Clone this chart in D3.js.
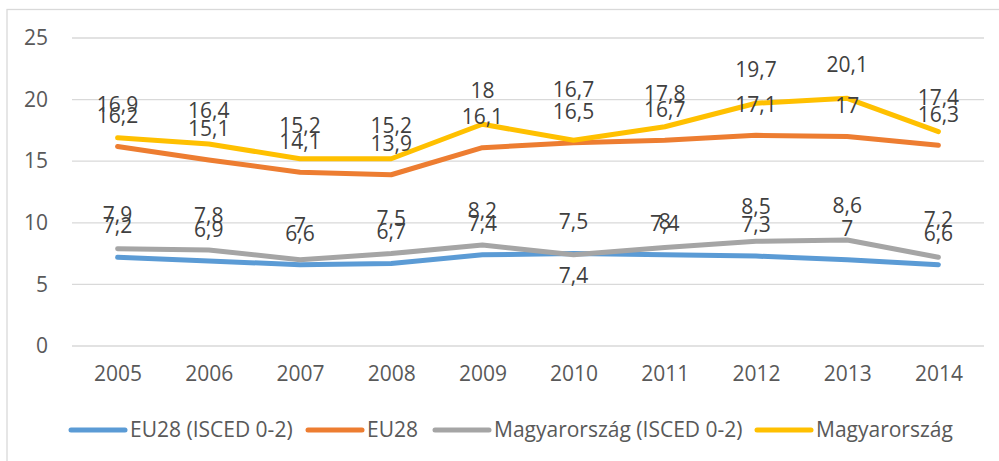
<!DOCTYPE html>
<html>
<head>
<meta charset="utf-8">
<script src="https://cdn.jsdelivr.net/npm/d3@7"></script>
<style>
  html, body { margin: 0; padding: 0; background: #fff; overflow: hidden; }
  svg { display: block; font-family: "Open Sans", "Liberation Sans", sans-serif; font-stretch: 90%; }
</style>
</head>
<body>
<svg id="chart" width="999" height="461"></svg>
<script>
const years = ["2005","2006","2007","2008","2009","2010","2011","2012","2013","2014"];
const seriesNames = ["EU28 (ISCED 0-2)", "EU28", "Magyarország (ISCED 0-2)", "Magyarország"];
const eu28Isced = [7.2, 6.9, 6.6, 6.7, 7.4, 7.5, 7.4, 7.3, 7, 6.6];
const eu28 = [16.2, 15.1, 14.1, 13.9, 16.1, 16.5, 16.7, 17.1, 17, 16.3];
const huIsced = [7.9, 7.8, 7, 7.5, 8.2, 7.4, 8, 8.5, 8.6, 7.2];
const hu = [16.9, 16.4, 15.2, 15.2, 18, 16.7, 17.8, 19.7, 20.1, 17.4];
const yTicks = [0, 5, 10, 15, 20, 25];

const colors = ["#5B9BD5", "#ED7D31", "#A5A5A5", "#FFC000"];
const seriesValues = [eu28Isced, eu28, huIsced, hu];

// label styling: distance above the point per series, and a few hand-moved labels
const labelLift = [31.5, 31, 34.5, 33.5];
const labelNudges = [
  { s: 2, year: "2010", dy: 55 },   // placed below the point
  { s: 3, year: "2010", dy: -17 },
  { s: 2, year: "2011", dy: 9 },
  { s: 2, year: "2014", dy: -3 }
];

const svg = d3.select("#chart");
const fmt = v => String(v).replace(".", ",");
const FS = 21;

// outer frame
svg.append("rect").attr("x", 7).attr("y", 9.5).attr("width", 1100).attr("height", 600)
  .attr("fill", "none").attr("stroke", "#d9d9d9").attr("stroke-width", 1.3);

const x = d3.scalePoint().domain(years).range([72, 984]).padding(0.5);
const y = d3.scaleLinear().domain([0, 25]).range([346, 38]);

// gridlines
svg.append("g").selectAll("line").data(yTicks).join("line")
  .attr("x1", 72).attr("x2", 984)
  .attr("y1", d => y(d)).attr("y2", d => y(d))
  .attr("stroke", "#d9d9d9").attr("stroke-width", 1.3);

// y axis labels
const yAxis = svg.append("g").attr("transform", "translate(48,0)")
  .call(d3.axisLeft(y).tickValues(yTicks).tickSize(0).tickPadding(0));
yAxis.select(".domain").remove();
yAxis.selectAll("text").attr("font-size", FS).attr("fill", "#595959")
  .attr("font-family", "Open Sans, Liberation Sans, sans-serif");

// x axis labels
const xAxis = svg.append("g").attr("transform", "translate(0,366)")
  .call(d3.axisBottom(x).tickSize(0).tickPadding(0));
xAxis.select(".domain").remove();
xAxis.selectAll("text").attr("font-size", FS).attr("fill", "#595959")
  .attr("font-family", "Open Sans, Liberation Sans, sans-serif");

// lines
const line = d3.line().x((d, i) => x(years[i])).y(d => y(d));
svg.append("g").selectAll("path").data(seriesValues).join("path")
  .attr("d", d => line(d))
  .attr("fill", "none")
  .attr("stroke", (d, i) => colors[i])
  .attr("stroke-width", 5)
  .attr("stroke-linejoin", "round")
  .attr("stroke-linecap", "round");

// data labels
const labelData = [];
seriesValues.forEach((vals, si) => vals.forEach((v, i) => {
  const n = labelNudges.find(o => o.s === si && o.year === years[i]);
  labelData.push({ si, year: years[i], v, dy: -labelLift[si] + (n ? n.dy : 0) });
}));
svg.append("g").selectAll("text").data(labelData).join("text")
  .attr("x", d => x(d.year))
  .attr("y", d => y(d.v) + d.dy)
  .attr("dy", "0.35em")
  .attr("text-anchor", "middle")
  .attr("font-size", FS)
  .attr("fill", "#404040")
  .text(d => fmt(d.v));

// legend
const legendItems = [
  { name: seriesNames[0], x0: 71 },
  { name: seriesNames[1], x0: 308 },
  { name: seriesNames[2], x0: 435 },
  { name: seriesNames[3], x0: 757 }
];
const lg = svg.append("g").attr("transform", "translate(0,430)");
legendItems.forEach((it, i) => {
  lg.append("line").attr("x1", it.x0).attr("x2", it.x0 + 54).attr("y1", 0).attr("y2", 0)
    .attr("stroke", colors[i]).attr("stroke-width", 5).attr("stroke-linecap", "round");
  lg.append("text").attr("x", it.x0 + 59).attr("y", 0).attr("dy", "0.35em")
    .attr("font-size", FS).attr("fill", "#595959").text(it.name);
});
</script>
</body>
</html>
